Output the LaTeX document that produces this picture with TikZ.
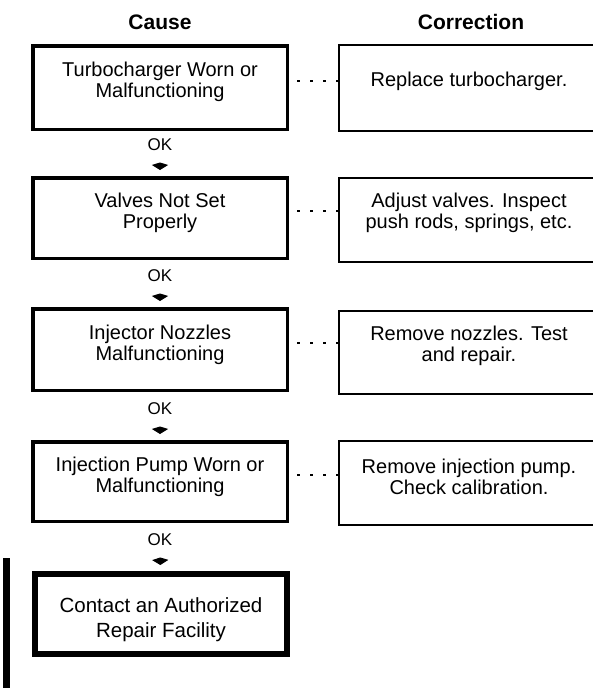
\documentclass[tikz,border=0pt]{standalone}
\usepackage{fontspec}
\setmainfont{Liberation Sans}
\usetikzlibrary{arrows.meta}
\begin{document}
\begin{tikzpicture}[x=1pt,y=-1pt,
  causebox/.style={draw, line width=3.5pt, minimum width=254.5pt, inner sep=0pt},
  corrbox/.style={draw, line width=2pt, minimum width=280pt, inner sep=0pt},
  finalbox/.style={draw, line width=6pt, minimum width=252pt, minimum height=80pt, inner sep=0pt},
  boxtext/.style={font=\fontsize{20}{21}\selectfont, align=center, inner sep=0pt},
  finaltext/.style={font=\fontsize{20.5}{25}\selectfont, align=center, inner sep=0pt},
  headtext/.style={font=\bfseries\fontsize{21}{24}\selectfont, inner sep=0pt},
  oktext/.style={font=\fontsize{17}{20}\selectfont, inner sep=0pt},
  okarrow/.style={line width=1pt, -{Stealth[length=5pt, width=16pt, inset=-2.5pt]}, shorten <=12pt, shorten >=6pt},
  dotline/.style={line width=2pt, dash pattern=on 3pt off 10pt, dash phase=5pt}
]
\useasboundingbox (0,0) rectangle (593,688);

% headings
\node[headtext] (hcause) at (160,22) {Cause};
\node[headtext] (hcorr) at (471,22) {Correction};

% cause boxes
\node[causebox, minimum height=83.5pt] (b1) at (160,87.5) {};
\node[causebox, minimum height=80.5pt] (b2) at (160,218) {};
\node[causebox, minimum height=81.5pt] (b3) at (160,349.5) {};
\node[causebox, minimum height=79.5pt] (b4) at (160,481.5) {};
\node[finalbox] (b5) at (161,614) {};

\node[boxtext] (t1) at (160,82) {Turbocharger Worn or\\Malfunctioning};
\node[boxtext] (t2) at (160,213) {Valves Not Set\\Properly};
\node[boxtext] (t3) at (160,344.5) {Injector Nozzles\\Malfunctioning};
\node[boxtext] (t4) at (160,476.5) {Injection Pump Worn or\\Malfunctioning};
\node[finaltext] (t5) at (161,620) {Contact an Authorized\\Repair Facility};

% correction boxes (right edge runs past the page)
\node[corrbox, minimum height=86pt] (r1) at (479,88) {};
\node[corrbox, minimum height=84pt] (r2) at (479,220) {};
\node[corrbox, minimum height=83pt] (r3) at (479,352.5) {};
\node[corrbox, minimum height=84pt] (r4) at (479,483) {};

\node[boxtext] (c1) at (469,81) {Replace turbocharger.};
\node[boxtext] (c2) at (469,213) {Adjust valves. Inspect\\push rods, springs, etc.};
\node[boxtext] (c3) at (469,345.5) {Remove nozzles. Test\\and repair.};
\node[boxtext] (c4) at (469,477) {Remove injection pump.\\Check calibration.};

% dotted links
\draw[dotline] ([yshift=7pt]b1.east) -- ([yshift=7pt]b1.east -| r1.west);
\draw[dotline] ([yshift=7pt]b2.east) -- ([yshift=7pt]b2.east -| r2.west);
\draw[dotline] ([yshift=7pt]b3.east) -- ([yshift=7pt]b3.east -| r3.west);
\draw[dotline] ([yshift=7pt]b4.east) -- ([yshift=7pt]b4.east -| r4.west);

% OK labels and arrows
\node[oktext] (ok1) at (160,145) {OK};
\node[oktext] (ok2) at (160,276) {OK};
\node[oktext] (ok3) at (160,409) {OK};
\node[oktext] (ok4) at (160,540) {OK};
\draw[okarrow] (ok1) -- (b2);
\draw[okarrow] (ok2) -- (b3);
\draw[okarrow] (ok3) -- (b4);
\draw[okarrow] (ok4) -- (b5);

% change bar
\fill (3,558) rectangle (10,688);
\end{tikzpicture}
\end{document}
